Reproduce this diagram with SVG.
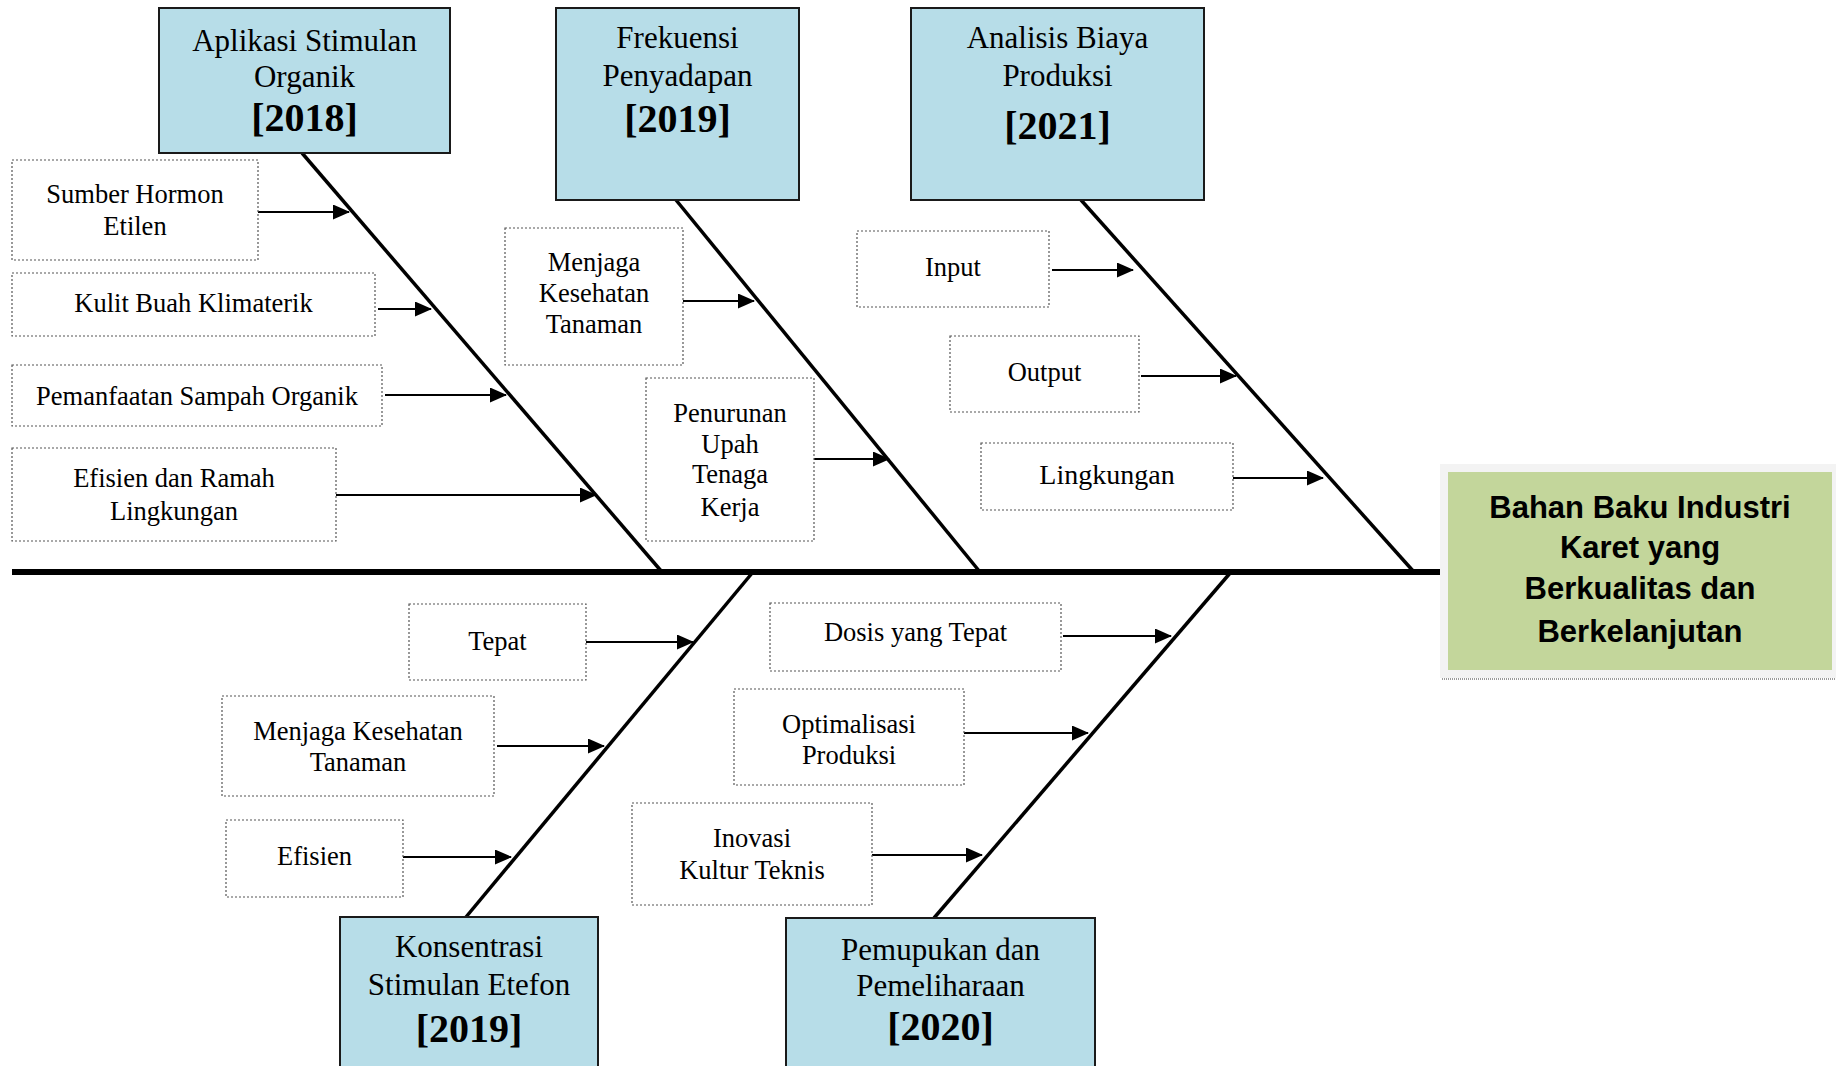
<svg xmlns="http://www.w3.org/2000/svg" width="1836" height="1066" viewBox="0 0 1836 1066">
<style>
.cat rect{fill:#b7dde8;stroke:#1a1a1a;stroke-width:2}
.cat text{font-family:"Liberation Serif","Times New Roman",serif;font-size:31px;fill:#000;text-anchor:middle}
.cat text.yr{font-size:40px;font-weight:bold}
.cause rect{fill:#fff;stroke:#555;stroke-width:1.2;stroke-dasharray:2 2}
.cause text{font-family:"Liberation Serif","Times New Roman",serif;font-size:26.5px;fill:#000;text-anchor:middle}
.bone{stroke:#000;stroke-width:3.5;fill:none}
.arr{stroke:#000;stroke-width:2.2;fill:none;marker-end:url(#ah)}
.eff text{font-family:"Liberation Sans",Arial,sans-serif;font-size:31px;font-weight:bold;fill:#000;text-anchor:middle}
</style>
<defs>
<marker id="ah" markerUnits="userSpaceOnUse" markerWidth="17" markerHeight="15" refX="16" refY="7.5" orient="auto">
<path d="M0,0 L17,7.5 L0,15 z" fill="#000"/>
</marker>
</defs>
<rect width="1836" height="1066" fill="#fff"/>

<g id="connectors">
<line x1="12" y1="572" x2="1440" y2="572" stroke="#000" stroke-width="6"/>
<line class="bone" x1="302" y1="153" x2="662" y2="572"/>
<line class="bone" x1="676" y1="200" x2="980" y2="572"/>
<line class="bone" x1="1081" y1="200" x2="1414" y2="572"/>
<line class="bone" x1="753" y1="572" x2="466" y2="917"/>
<line class="bone" x1="1231" y1="572" x2="934" y2="918"/>
<line class="arr" x1="258" y1="212" x2="349" y2="212"/>
<line class="arr" x1="378" y1="309" x2="431" y2="309"/>
<line class="arr" x1="385" y1="395" x2="506" y2="395"/>
<line class="arr" x1="336" y1="495" x2="596" y2="495"/>
<line class="arr" x1="683" y1="301" x2="754" y2="301"/>
<line class="arr" x1="814" y1="459" x2="889" y2="459"/>
<line class="arr" x1="1052" y1="270" x2="1133" y2="270"/>
<line class="arr" x1="1141" y1="376" x2="1236" y2="376"/>
<line class="arr" x1="1233" y1="478" x2="1323" y2="478"/>
<line class="arr" x1="586" y1="642" x2="693" y2="642"/>
<line class="arr" x1="497" y1="746" x2="604" y2="746"/>
<line class="arr" x1="403" y1="857" x2="511" y2="857"/>
<line class="arr" x1="1063" y1="636" x2="1171" y2="636"/>
<line class="arr" x1="964" y1="733" x2="1088" y2="733"/>
<line class="arr" x1="872" y1="855" x2="982" y2="855"/>
</g>

<g id="effect" class="eff">
<rect x="1440" y="464" width="396" height="214" fill="#f3f3f3"/>
<line x1="1442" y1="679" x2="1836" y2="679" stroke="#9a9a9a" stroke-width="2" stroke-dasharray="1 1"/>
<rect x="1448" y="472" width="384" height="198" fill="#c3d69b"/>
<text x="1640" y="518">Bahan Baku Industri</text>
<text x="1640" y="558">Karet yang</text>
<text x="1640" y="599">Berkualitas dan</text>
<text x="1640" y="642">Berkelanjutan</text>
</g>

<g id="cat-aplikasi" class="cat">
<rect x="159" y="8" width="291" height="145"/>
<text x="304.5" y="51">Aplikasi Stimulan</text>
<text x="304.5" y="87">Organik</text>
<text class="yr" x="304.5" y="131">[2018]</text>
</g>
<g id="cat-frekuensi" class="cat">
<rect x="556" y="8" width="243" height="192"/>
<text x="677.5" y="48">Frekuensi</text>
<text x="677.5" y="86">Penyadapan</text>
<text class="yr" x="677.5" y="132">[2019]</text>
</g>
<g id="cat-analisis" class="cat">
<rect x="911" y="8" width="293" height="192"/>
<text x="1057.5" y="48">Analisis Biaya</text>
<text x="1057.5" y="86">Produksi</text>
<text class="yr" x="1057.5" y="139">[2021]</text>
</g>
<g id="cat-konsentrasi" class="cat">
<rect x="340" y="917" width="258" height="160"/>
<text x="469" y="957">Konsentrasi</text>
<text x="469" y="995">Stimulan Etefon</text>
<text class="yr" x="469" y="1042">[2019]</text>
</g>
<g id="cat-pemupukan" class="cat">
<rect x="786" y="918" width="309" height="160"/>
<text x="940.5" y="960">Pemupukan dan</text>
<text x="940.5" y="996">Pemeliharaan</text>
<text class="yr" x="940.5" y="1040">[2020]</text>
</g>

<g id="c-sumber" class="cause">
<rect x="12" y="160" width="246" height="100"/>
<text x="135" y="203">Sumber Hormon</text>
<text x="135" y="235">Etilen</text>
</g>
<g id="c-kulit" class="cause">
<rect x="12" y="273" width="363" height="63"/>
<text x="193.5" y="312">Kulit Buah Klimaterik</text>
</g>
<g id="c-pemanfaatan" class="cause">
<rect x="12" y="365" width="370" height="61"/>
<text x="197" y="405">Pemanfaatan Sampah Organik</text>
</g>
<g id="c-efisienramah" class="cause">
<rect x="12" y="448" width="324" height="93"/>
<text x="174" y="487">Efisien dan Ramah</text>
<text x="174" y="520">Lingkungan</text>
</g>
<g id="c-menjaga1" class="cause">
<rect x="505" y="228" width="178" height="137"/>
<text x="594" y="271">Menjaga</text>
<text x="594" y="302">Kesehatan</text>
<text x="594" y="333">Tanaman</text>
</g>
<g id="c-penurunan" class="cause">
<rect x="646" y="378" width="168" height="163"/>
<text x="730" y="422">Penurunan</text>
<text x="730" y="453">Upah</text>
<text x="730" y="483">Tenaga</text>
<text x="730" y="516">Kerja</text>
</g>
<g id="c-input" class="cause">
<rect x="857" y="231" width="192" height="76"/>
<text x="953" y="276">Input</text>
</g>
<g id="c-output" class="cause">
<rect x="950" y="336" width="189" height="76"/>
<text x="1044.5" y="381">Output</text>
</g>
<g id="c-lingkungan" class="cause">
<rect x="981" y="443" width="252" height="67"/>
<text x="1107" y="484" style="font-size:28px">Lingkungan</text>
</g>
<g id="c-tepat" class="cause">
<rect x="409" y="604" width="177" height="76"/>
<text x="497.5" y="650">Tepat</text>
</g>
<g id="c-menjaga2" class="cause">
<rect x="222" y="696" width="272" height="100"/>
<text x="358" y="740">Menjaga Kesehatan</text>
<text x="358" y="771">Tanaman</text>
</g>
<g id="c-efisien" class="cause">
<rect x="226" y="820" width="177" height="77"/>
<text x="314.5" y="865">Efisien</text>
</g>
<g id="c-dosis" class="cause">
<rect x="770" y="603" width="291" height="68"/>
<text x="915.5" y="641">Dosis yang Tepat</text>
</g>
<g id="c-optimalisasi" class="cause">
<rect x="734" y="689" width="230" height="96"/>
<text x="849" y="733">Optimalisasi</text>
<text x="849" y="764">Produksi</text>
</g>
<g id="c-inovasi" class="cause">
<rect x="632" y="803" width="240" height="102"/>
<text x="752" y="847">Inovasi</text>
<text x="752" y="879">Kultur Teknis</text>
</g>
</svg>
